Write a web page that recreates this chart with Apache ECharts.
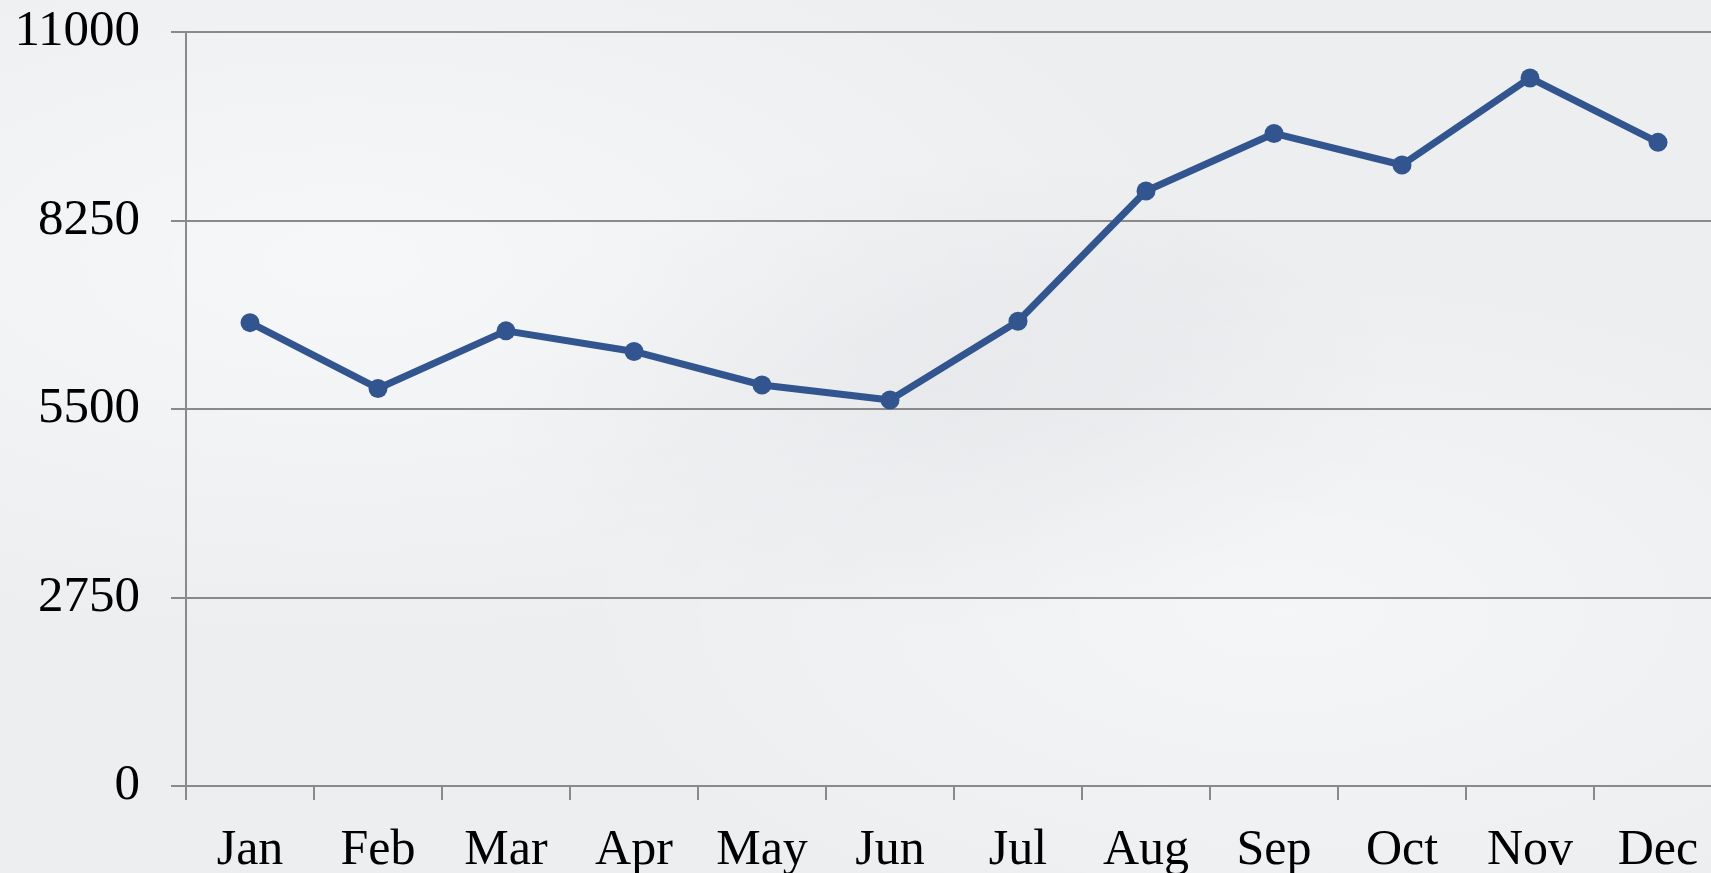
<!DOCTYPE html>
<html>
<head>
<meta charset="utf-8">
<script src="https://cdn.jsdelivr.net/npm/echarts@6/dist/echarts.min.js"></script>
<style>
  html, body { margin: 0; padding: 0; }
  body {
    width: 1711px; height: 873px; overflow: hidden;
    background-color: #eceef0;
    background-image:
      radial-gradient(ellipse at 20% 30%, rgba(255,255,255,0.55), rgba(255,255,255,0) 45%),
      radial-gradient(ellipse at 75% 70%, rgba(255,255,255,0.45), rgba(255,255,255,0) 40%),
      radial-gradient(ellipse at 55% 45%, rgba(215,218,222,0.5), rgba(215,218,222,0) 35%);
  }
  #chart { width: 1711px; height: 873px; }
</style>
</head>
<body>
<div id="chart"></div>
<script>
// 月份
var months = ['Jan', 'Feb', 'Mar', 'Apr', 'May', 'Jun', 'Jul', 'Aug', 'Sep', 'Oct', 'Nov', 'Dec']
// 每月数值
var values = [6760, 5800, 6640, 6340, 5850, 5630, 6780, 8680, 9520, 9060, 10330, 9390]
// y轴刻度
var yMin = 0
var yMax = 11000
var yStep = 2750

var chart = echarts.init(document.getElementById('chart'))

var axisGrey = '#8a8a8a'
var serif = '"Liberation Serif", "DejaVu Serif", serif'

var option = {
    backgroundColor: 'transparent',
    animation: false,
    grid: {
        left: 186,
        right: -11,
        top: 32,
        bottom: 87,
        containLabel: false,
        outerBoundsMode: 'none'
    },
    xAxis: {
        type: 'category',
        data: months,
        boundaryGap: true,
        axisLine: { show: true, lineStyle: { color: axisGrey, width: 2 } },
        axisTick: { show: true, length: 14, inside: false, lineStyle: { color: axisGrey, width: 2 } },
        axisLabel: { color: '#000', fontFamily: serif, fontSize: 50, margin: 40, interval: 0 },
        splitLine: { show: false }
    },
    yAxis: {
        type: 'value',
        min: yMin,
        max: yMax,
        interval: yStep,
        axisLine: { show: true, lineStyle: { color: axisGrey, width: 2 } },
        axisTick: { show: true, length: 15, inside: false, lineStyle: { color: axisGrey, width: 2 } },
        axisLabel: {
            color: '#000', fontFamily: serif, fontSize: 51, margin: 46,
            formatter: function (v) { return String(v) }  // 不要千位分隔符
        },
        splitLine: { show: true, lineStyle: { color: axisGrey, width: 2 } }
    },
    series: [{
        type: 'line',
        data: values,
        symbol: 'circle',
        symbolSize: 19,
        lineStyle: { color: '#32548f', width: 7 },
        itemStyle: { color: '#32548f' }
    }]
}

chart.setOption(option)
</script>
</body>
</html>
